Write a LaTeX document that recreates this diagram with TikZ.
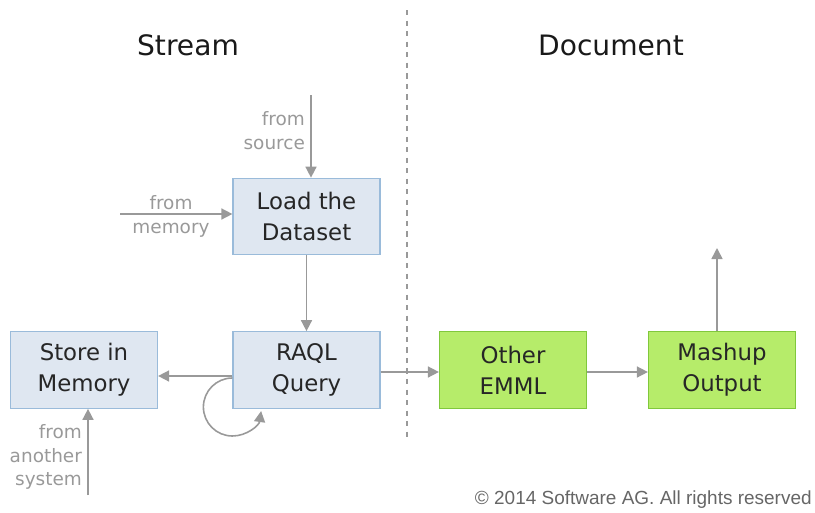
\documentclass[tikz,border=0pt]{standalone}
\usepackage{fontspec}
\setmainfont{DejaVu Sans}
\newfontfamily\notefont{Liberation Sans}
\usetikzlibrary{arrows.meta, positioning}
\definecolor{bfill}{HTML}{DFE7F1}
\definecolor{bline}{HTML}{9ABBDA}
\definecolor{gfill}{HTML}{B6EC6A}
\definecolor{gline}{HTML}{80C83C}
\definecolor{cgray}{HTML}{999999}

\begin{document}
\begin{tikzpicture}[
  x=0.02cm, y=0.02cm,
  >={Triangle[length=2.2mm, width=2.2mm]},
  stage/.style={draw=bline, fill=bfill, line width=0.7pt,
                minimum width=2.94cm, minimum height=1.53cm,
                align=center, inner sep=0pt, text=black!85,
                font=\fontsize{13}{17.5}\selectfont},
  emml/.style={stage, draw=gline, fill=gfill},
  head/.style={font=\fontsize{16}{19}\selectfont, text=black!90},
  lbl/.style={text=cgray, align=right, inner sep=1pt,
              font=\fontsize{10.5}{13.6}\selectfont},
  arr/.style={->, draw=cgray, line width=0.9pt},
]
\useasboundingbox (0,0) rectangle (815,512);

% columns
\draw[cgray, dashed, line width=0.8pt] (407,502) -- (407,72);
\node[head] (hstream) at (188,467) {Stream};
\node[head] (hdoc) at (611,467) {Document};

% boxes
\node[stage] (load) at (306.5,295.5) {Load the\\Dataset};
\node[stage] (raql) at (306.5,142) {RAQL\\Query};
\node[stage] (store) at (84,142) {Store in\\Memory};
\node[emml] (other) at (513,142) {Other\\EMML};
\node[emml] (mash) at (722,142) {Mashup\\Output};

% inputs
\coordinate (src) at (311,417);
\coordinate (mem) at (120,298);
\coordinate (sys) at (88,17);
\coordinate (out) at (717,264);
\draw[arr] (src) -- (src |- load.north);
\draw[arr] (mem) -- (mem -| load.west);
\draw[arr] (sys) -- (sys |- store.south);
\node[lbl, anchor=east] (lsrc) at (307,381) {from\\source};
\node[lbl, align=center] (lmem) at (171,296) {from\\memory};
\node[lbl, anchor=east] (lsys) at (84,55) {from\\another\\system};

% flow
\draw[arr] (load) -- (raql);
\draw[arr] ([yshift=-0.12cm]raql.west) -- ([yshift=-0.12cm]store.east);
\coordinate (loop) at ([yshift=-0.16cm]raql.west);
\draw[arr] (loop) arc[start angle=90, end angle=352, radius=29];
\draw[arr] ([yshift=-0.04cm]raql.east) -- ([yshift=-0.04cm]other.west);
\draw[arr] ([yshift=-0.04cm]other.east) -- ([yshift=-0.04cm]mash.west);
\draw[arr] (out |- mash.north) -- (out);

\node[text=black!60, font=\notefont\fontsize{10.8}{12}\selectfont,
      anchor=east, inner sep=0pt] (copy) at (812,12) {\textcopyright{} 2014 Software AG. All rights reserved};
\end{tikzpicture}
\end{document}
